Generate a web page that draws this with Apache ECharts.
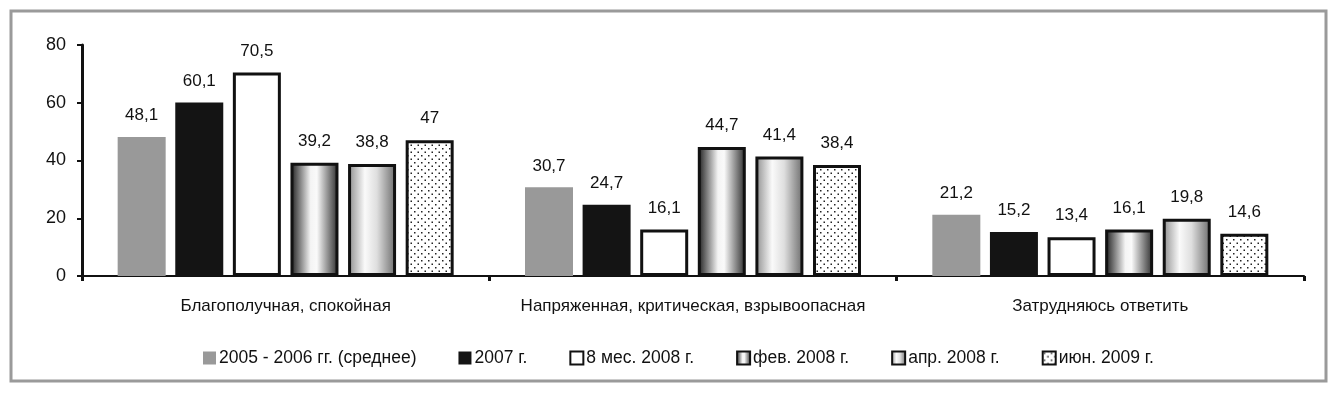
<!DOCTYPE html>
<html>
<head>
<meta charset="utf-8">
<script src="https://cdn.jsdelivr.net/npm/echarts@6/dist/echarts.min.js"></script>
<style>
  html, body { margin: 0; padding: 0; background: #fff; }
  #chart { width: 1338px; height: 393px; }
</style>
</head>
<body>
<div id="chart"></div>
<script>
// данные
var categories = ['Благополучная, спокойная', 'Напряженная, критическая, взрывоопасная', 'Затрудняюсь ответить'];
var seriesNames = ['2005 - 2006 гг. (среднее)', '2007 г.', '8 мес. 2008 г.', 'фев. 2008 г.', 'апр. 2008 г.', 'июн. 2009 г.'];
var avg0506 = [48.1, 30.7, 21.2];
var y2007 = [60.1, 24.7, 15.2];
var m8_2008 = [70.5, 16.1, 13.4];
var feb2008 = [39.2, 44.7, 16.1];
var apr2008 = [38.8, 41.4, 19.8];
var jun2009 = [47, 38.4, 14.6];
var yTicks = [0, 20, 40, 60, 80];

var font = "'Liberation Sans', Arial, sans-serif";

// точечная заливка
function dotPattern() {
  var c = document.createElement('canvas');
  c.width = 7; c.height = 7;
  var ctx = c.getContext('2d');
  ctx.fillStyle = '#fff';
  ctx.fillRect(0, 0, 7, 7);
  ctx.fillStyle = '#222';
  ctx.fillRect(1, 1, 1.5, 1.5);
  ctx.fillRect(4.5, 4.5, 1.5, 1.5);
  return c;
}

function grad(stops) {
  return new echarts.graphic.LinearGradient(0, 0, 1, 0, stops);
}

var styles = [
  { color: '#999999', borderWidth: 0 },
  { color: '#141414', borderWidth: 0 },
  { color: '#ffffff', borderColor: '#111', borderWidth: 3 },
  { color: grad([{offset: 0, color: '#1a1a1a'}, {offset: 0.42, color: '#f4f4f4'}, {offset: 0.55, color: '#fafafa'}, {offset: 1, color: '#2a2a2a'}]), borderColor: '#111', borderWidth: 3 },
  { color: grad([{offset: 0, color: '#8c8c8c'}, {offset: 0.35, color: '#fafafa'}, {offset: 0.6, color: '#dedede'}, {offset: 1, color: '#6a6a6a'}]), borderColor: '#111', borderWidth: 3 },
  { color: { image: dotPattern(), repeat: 'repeat' }, borderColor: '#111', borderWidth: 3 }
];
var values = [avg0506, y2007, m8_2008, feb2008, apr2008, jun2009];

var series = [];
for (var i = 0; i < values.length; i++) {
  series.push({
    name: seriesNames[i],
    type: 'bar',
    data: values[i],
    barWidth: 48,
    barGap: '20%',
    itemStyle: styles[i],
    label: {
      show: true,
      position: 'top',
      distance: 13,
      color: '#111',
      fontSize: 17,
      fontFamily: font,
      formatter: function (p) { return String(p.value).replace('.', ','); }
    }
  });
}

var myChart = echarts.init(document.getElementById('chart'));
var option = {
  animation: false,
  backgroundColor: '#fff',
  graphic: [{
    type: 'rect',
    shape: { x: 11, y: 11, width: 1315, height: 370 },
    style: { fill: 'none', stroke: '#9a9a9a', lineWidth: 3 },
    silent: true
  }],
  grid: { left: 82, right: 34, top: 45, bottom: 117 },
  legend: {
    left: 198,
    top: 344,
    itemWidth: 13,
    itemHeight: 13,
    itemGap: 42,
    icon: 'rect',
    textStyle: { fontSize: 17.5, fontFamily: font, color: '#111', padding: [0, 0, 0, -2] },
    data: seriesNames
  },
  xAxis: {
    type: 'category',
    data: categories,
    axisLine: { lineStyle: { color: '#111', width: 2 } },
    axisTick: { show: true, length: 5, lineStyle: { color: '#111', width: 3 } },
    axisLabel: { interval: 0, color: '#111', fontSize: 17, fontFamily: font, margin: 22 }
  },
  yAxis: {
    type: 'value',
    min: yTicks[0],
    max: yTicks[yTicks.length - 1],
    interval: 20,
    splitLine: { show: false },
    axisLine: { show: true, lineStyle: { color: '#111', width: 3 } },
    axisTick: { show: true, length: 5, lineStyle: { color: '#111', width: 2 } },
    axisLabel: { color: '#111', fontSize: 18, fontFamily: font, margin: 16 }
  },
  series: series
};
myChart.setOption(option);
</script>
</body>
</html>
